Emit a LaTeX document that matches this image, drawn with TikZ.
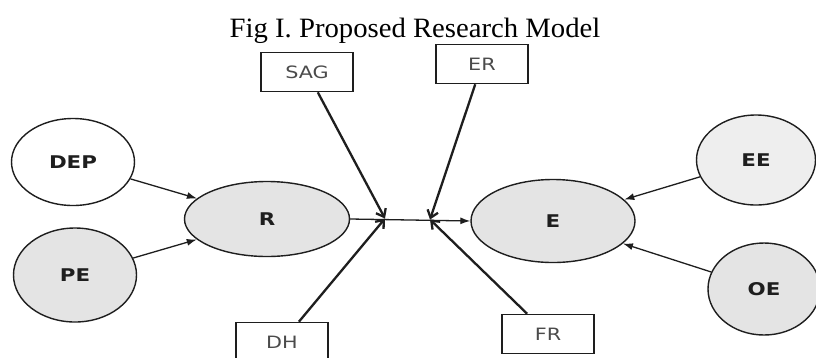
\documentclass[tikz,border=0pt]{standalone}
\usepackage{fontspec}
\usepackage{graphicx}
\setmainfont{Liberation Serif}
\newfontfamily\lblfont{DejaVu Sans}
\usetikzlibrary{arrows.meta,shapes.geometric}
\definecolor{ink}{HTML}{1E1E1E}
\definecolor{fillg}{HTML}{E4E4E4}
\definecolor{filll}{HTML}{EEEEEE}
\newcommand\hstretch[1]{\scalebox{1.22}[1]{#1}}
\begin{document}
\begin{tikzpicture}[x=1pt,y=-1pt,
  latent/.style={ellipse, draw=ink, line width=1.4pt, fill=fillg, inner sep=0pt,
    font=\lblfont\bfseries\fontsize{17.5}{17.5}\selectfont, text=ink},
  modbox/.style={rectangle, draw=ink, line width=1.6pt, fill=white, inner sep=0pt,
    minimum width=92pt, minimum height=39pt,
    font=\lblfont\fontsize{17}{17}\selectfont, text=ink!80},
  rel/.style={draw=ink, line width=1.3pt, -{Latex[length=10pt,width=7pt]}},
  modarrow/.style={draw=ink, line width=2.3pt, -{Straight Barb[length=7pt,width=11pt]}}]
\useasboundingbox (0,0) rectangle (816,357);
\fill[white] (0,0) rectangle (816,357);
% title
\node[anchor=base, inner sep=0pt] (title) at (415,37)
  {\fontsize{28}{28}\selectfont\scalebox{1.025}[1]{Fig I. Proposed Research Model}};
% latent variables
\node[latent, fill=white, minimum width=123pt, minimum height=87pt] (DEP) at (73,162) {\hstretch{DEP}};
\node[latent, minimum width=123pt, minimum height=94pt] (PE) at (75,275) {\hstretch{PE}};
\node[latent, minimum width=165pt, minimum height=75pt] (R) at (267,219) {\hstretch{R}};
\node[latent, minimum width=164pt, minimum height=83pt] (E) at (553,221) {\hstretch{E}};
\node[latent, fill=filll, minimum width=119pt, minimum height=90pt] (EE) at (756,160) {\hstretch{EE}};
\node[latent, minimum width=112pt, minimum height=92pt] (OE) at (764,289) {\hstretch{OE}};
% moderators
\node[modbox] (SAG) at (307,72) {\hstretch{SAG}};
\node[modbox] (ER) at (482,64) {\hstretch{ER}};
\node[modbox] (DH) at (282,342) {\hstretch{DH}};
\node[modbox] (FR) at (548,334) {\hstretch{FR}};
% junction points
\coordinate (j1) at (385,218.5);
\coordinate (j2) at (430,219.5);
% connectors
\draw[rel] (DEP) -- (R);
\draw[rel] (PE) -- (R);
\draw[rel] (EE) -- (E);
\draw[rel] (OE) -- (E);
\draw[rel] (R.east) -- (E.west);
\draw[modarrow] (SAG) -- (j1);
\draw[modarrow] (DH) -- (j1);
\draw[modarrow] (ER) -- (j2);
\draw[modarrow] (FR) -- (j2);
\end{tikzpicture}
\end{document}
